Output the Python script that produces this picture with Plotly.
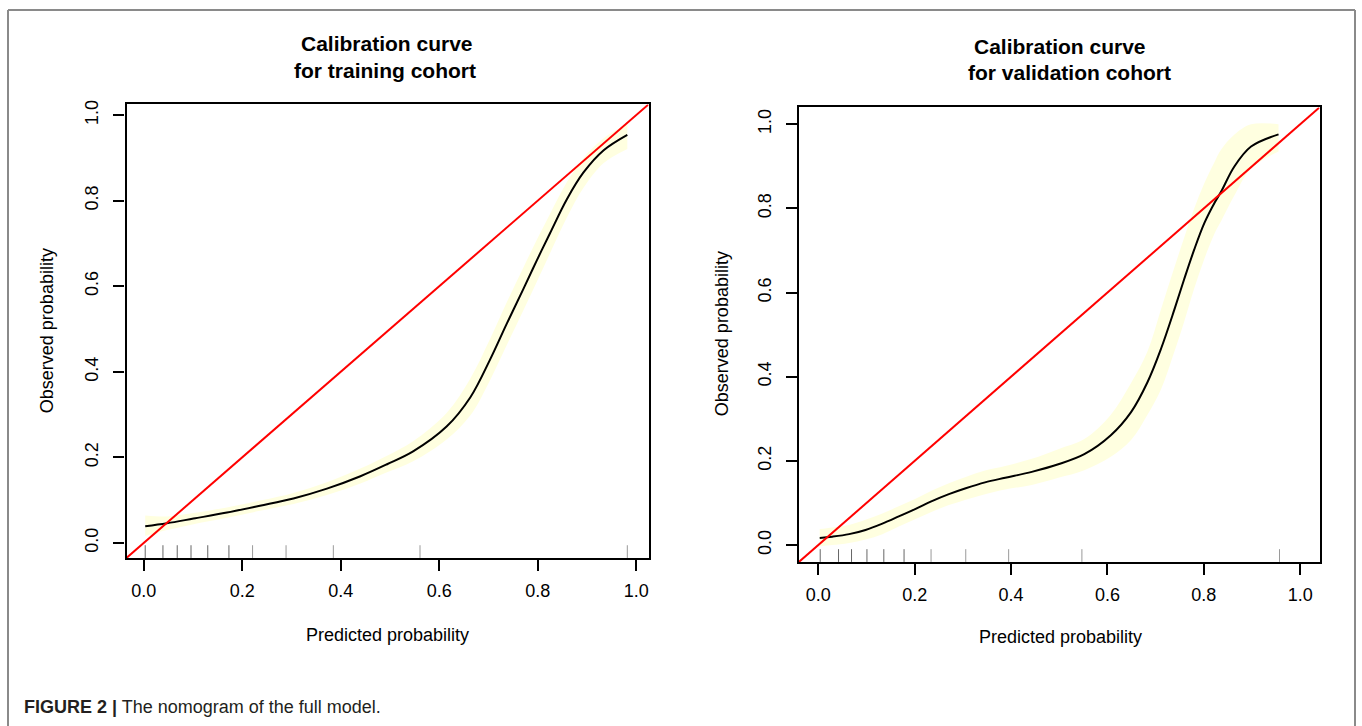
import plotly.graph_objects as go

# ---------------- data ----------------
train_x = [0.003, 0.047, 0.101, 0.169, 0.236, 0.304, 0.372, 0.440, 0.494, 0.547, 0.615,
           0.663, 0.703, 0.737, 0.771, 0.798, 0.825, 0.859, 0.893, 0.934, 0.982]
train_obs = [0.039, 0.046, 0.057, 0.071, 0.087, 0.104, 0.127, 0.156, 0.184, 0.214, 0.272,
             0.340, 0.428, 0.512, 0.594, 0.660, 0.724, 0.803, 0.866, 0.918, 0.954]
train_lo = [0.016, 0.030, 0.044, 0.059, 0.075, 0.091, 0.112, 0.139, 0.165, 0.191, 0.242,
            0.298, 0.380, 0.462, 0.544, 0.610, 0.677, 0.760, 0.830, 0.888, 0.921]
train_hi = [0.064, 0.062, 0.070, 0.083, 0.099, 0.117, 0.142, 0.174, 0.204, 0.238, 0.304,
            0.384, 0.476, 0.562, 0.644, 0.708, 0.769, 0.843, 0.900, 0.946, 0.979]
train_rug = [0.003, 0.039, 0.068, 0.096, 0.130, 0.173, 0.221, 0.289, 0.385, 0.561, 0.982]

valid_x = [0.003, 0.029, 0.064, 0.098, 0.133, 0.167, 0.202, 0.237, 0.271, 0.306, 0.346,
           0.388, 0.443, 0.498, 0.552, 0.607, 0.649, 0.683, 0.711, 0.739, 0.759, 0.780,
           0.801, 0.822, 0.836, 0.863, 0.898, 0.955]
valid_obs = [0.017, 0.020, 0.026, 0.036, 0.051, 0.068, 0.086, 0.105, 0.121, 0.135, 0.149,
             0.160, 0.174, 0.192, 0.216, 0.261, 0.316, 0.387, 0.466, 0.560, 0.631, 0.702,
             0.765, 0.813, 0.840, 0.899, 0.947, 0.976]
valid_lo = [-0.003, 0.000, 0.005, 0.013, 0.026, 0.044, 0.062, 0.080, 0.095, 0.108, 0.121,
            0.132, 0.143, 0.160, 0.178, 0.210, 0.250, 0.310, 0.370, 0.460, 0.530, 0.610,
            0.680, 0.740, 0.770, 0.830, 0.895, 0.935]
valid_hi = [0.038, 0.042, 0.048, 0.060, 0.075, 0.092, 0.110, 0.130, 0.147, 0.162, 0.177,
            0.188, 0.205, 0.228, 0.252, 0.310, 0.385, 0.460, 0.560, 0.660, 0.730, 0.800,
            0.860, 0.910, 0.940, 0.975, 1.000, 1.000]
valid_rug = [0.004, 0.042, 0.069, 0.101, 0.136, 0.178, 0.234, 0.306, 0.395, 0.547, 0.957]

tick_vals = [0.0, 0.2, 0.4, 0.6, 0.8, 1.0]
tick_text = ["0.0", "0.2", "0.4", "0.6", "0.8", "1.0"]
train_range = [-0.035, 1.025]
valid_range = [-0.040, 1.040]

titles = [["Calibration curve", "for training cohort"],
          ["Calibration curve", "for validation cohort"]]
x_title = "Predicted probability"
y_title = "Observed probability"
caption_bold = "FIGURE 2 |"
caption_text = " The nomogram of the full model."

# ---------------- figure ----------------
W, H = 1362, 726
FONT = "Liberation Sans, Arial, Helvetica, sans-serif"
BAND = "#FFFFE0"

fig = go.Figure()

panels = [
    dict(x=train_x, obs=train_obs, lo=train_lo, hi=train_hi, rug=train_rug,
         rng=train_range, xa="x", ya="y"),
    dict(x=valid_x, obs=valid_obs, lo=valid_lo, hi=valid_hi, rug=valid_rug,
         rng=valid_range, xa="x2", ya="y2"),
]

for p in panels:
    fig.add_trace(go.Scatter(x=p["x"], y=p["lo"], mode="lines",
                             line=dict(width=0, shape="spline", color=BAND),
                             xaxis=p["xa"], yaxis=p["ya"], showlegend=False, hoverinfo="skip"))
    fig.add_trace(go.Scatter(x=p["x"], y=p["hi"], mode="lines",
                             line=dict(width=0, shape="spline", color=BAND),
                             fill="tonexty", fillcolor=BAND,
                             xaxis=p["xa"], yaxis=p["ya"], showlegend=False, hoverinfo="skip"))
    fig.add_trace(go.Scatter(x=p["x"], y=p["obs"], mode="lines",
                             line=dict(color="black", width=2, shape="spline"),
                             xaxis=p["xa"], yaxis=p["ya"], showlegend=False))
    fig.add_trace(go.Scatter(x=p["rng"], y=p["rng"], mode="lines",
                             line=dict(color="#FF0000", width=2),
                             xaxis=p["xa"], yaxis=p["ya"], showlegend=False))
    for i, v in enumerate(p["rug"]):
        fig.add_shape(type="line", xref=p["xa"], yref=p["ya"] + " domain",
                      x0=v, x1=v, y0=0, y1=0.028,
                      line=dict(color="#666666" if i < 6 else "#9a9a9a", width=1))


def px_x(v):
    return v / W


def px_y(v):
    return 1 - v / H


axis_common = dict(
    showgrid=False, zeroline=False, showline=True, mirror=True,
    linecolor="black", linewidth=2.4, ticks="outside", ticklen=11, tickwidth=1.6,
    tickcolor="black", tickvals=tick_vals, ticktext=tick_text,
    tickfont=dict(family=FONT, size=18, color="black"),
)

fig.update_layout(
    width=W, height=H, autosize=False,
    margin=dict(l=0, r=0, t=0, b=0),
    paper_bgcolor="white", plot_bgcolor="white",
    font=dict(family=FONT, color="black"),
    xaxis=dict(domain=[px_x(126.5), px_x(648.5)], range=train_range, anchor="y",
               ticklabelstandoff=4, **axis_common),
    yaxis=dict(domain=[px_y(557), px_y(101)], range=train_range, anchor="x",
               tickangle=-90, ticklabelstandoff=8, **axis_common),
    xaxis2=dict(domain=[px_x(799), px_x(1319.5)], range=valid_range, anchor="y2",
                ticklabelstandoff=4, **axis_common),
    yaxis2=dict(domain=[px_y(561), px_y(104)], range=valid_range, anchor="x2",
                tickangle=-90, ticklabelstandoff=8, **axis_common),
)

annotations = []
# titles
for (cx1, cy1, cx2, cy2), t in zip([(387, 40, 385, 67), (1060, 43, 1069, 69)], titles):
    for cx, cy, s in [(cx1, cy1, t[0]), (cx2, cy2, t[1])]:
        annotations.append(dict(xref="paper", yref="paper", x=px_x(cx), y=px_y(cy),
                                text="<b>%s</b>" % s, showarrow=False,
                                xanchor="center", yanchor="middle",
                                font=dict(family=FONT, size=21, color="black")))
# axis titles
for cx, cy in [(387, 634), (1060, 637)]:
    annotations.append(dict(xref="paper", yref="paper", x=px_x(cx), y=px_y(cy), text=x_title,
                            showarrow=False, xanchor="center", yanchor="middle",
                            font=dict(family=FONT, size=18, color="black")))
for cx, cy in [(47, 329), (722, 332)]:
    annotations.append(dict(xref="paper", yref="paper", x=px_x(cx), y=px_y(cy), text=y_title,
                            showarrow=False, xanchor="center", yanchor="middle", textangle=-90,
                            font=dict(family=FONT, size=18, color="black")))
# caption
annotations.append(dict(xref="paper", yref="paper", x=px_x(22), y=px_y(707),
                        text="<b>%s</b>%s" % (caption_bold, caption_text),
                        showarrow=False, xanchor="left", yanchor="middle",
                        font=dict(family=FONT, size=18, color="#231f20")))
fig.update_layout(annotations=annotations)

# outer frame
frame = dict(color="#8a8a8a", width=2)
fig.add_shape(type="line", xref="paper", yref="paper", x0=px_x(8), x1=px_x(1355),
              y0=px_y(6), y1=px_y(6), line=frame)
fig.add_shape(type="line", xref="paper", yref="paper", x0=px_x(8), x1=px_x(8),
              y0=px_y(6), y1=0, line=frame)
fig.add_shape(type="line", xref="paper", yref="paper", x0=px_x(1355), x1=px_x(1355),
              y0=px_y(6), y1=0, line=frame)

fig.write_html("out.html")
